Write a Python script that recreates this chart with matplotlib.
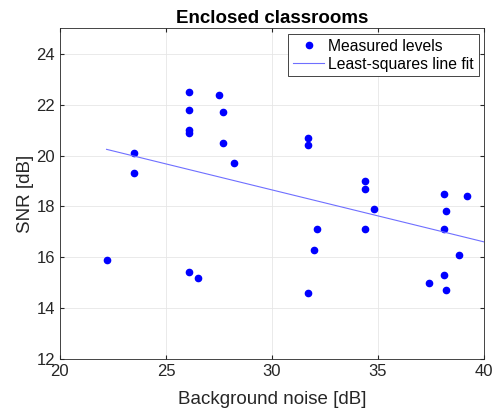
import matplotlib.pyplot as plt
import numpy as np

plt.rcParams['font.family'] = ['Liberation Sans', 'DejaVu Sans']

# background noise [dB] and SNR [dB] per classroom
noise = [23.5, 23.5, 26.1, 26.1, 26.1, 26.1, 27.5, 27.7, 27.7, 28.2,
         31.7, 31.7, 34.4, 34.4, 34.8, 38.1, 39.2, 38.2,
         32.1, 32.0, 31.7, 34.4, 38.1, 38.8, 37.4, 38.1, 38.2,
         22.2, 26.1, 26.5]
snr = [20.1, 19.3, 22.5, 21.8, 21.0, 20.9, 22.4, 21.7, 20.5, 19.7,
       20.7, 20.4, 19.0, 18.7, 17.9, 18.5, 18.4, 17.8,
       17.1, 16.3, 14.6, 17.1, 17.1, 16.1, 15.0, 15.3, 14.7,
       15.9, 15.4, 15.2]

x = np.array(noise)
y = np.array(snr)
p = np.polyfit(x, y, 1)
xf = np.array([x.min(), 40])

fig = plt.figure(figsize=(4.95, 4.12), dpi=100)
ax = fig.add_axes([0.121, 0.129, 0.857, 0.802])

ax.plot(x, y, 'o', color='blue', ms=4.5, mec='blue', label='Measured levels')
ax.plot(xf, np.polyval(p, xf), color='#6f6fff', lw=0.8, label='Least-squares line fit')

ax.set_xlim(20, 40)
ax.set_ylim(12, 25)
ax.set_xticks([20, 25, 30, 35, 40])
ax.set_yticks([12, 14, 16, 18, 20, 22, 24])
ax.grid(True, color='#e6e6e6', lw=0.6)
ax.set_axisbelow(True)
ax.tick_params(direction='in', top=True, right=True, labelsize=12, colors='#262626', length=3)
for s in ax.spines.values():
    s.set_color('#262626')
    s.set_linewidth(0.6)

ax.set_xlabel('Background noise [dB]', fontsize=13.5, color='#262626', labelpad=9)
ax.set_ylabel('SNR [dB]', fontsize=13.5, color='#262626', labelpad=2)
ax.set_title('Enclosed classrooms', fontsize=13.5, fontweight='bold', pad=4)

leg = ax.legend(loc='upper right', fontsize=11.3, fancybox=False, framealpha=1,
                edgecolor='#262626', borderaxespad=0.35, handlelength=2.0,
                handletextpad=0.25, borderpad=0.3, labelspacing=0.2)
leg.get_frame().set_linewidth(0.6)

fig.savefig('out.png', dpi=100)
